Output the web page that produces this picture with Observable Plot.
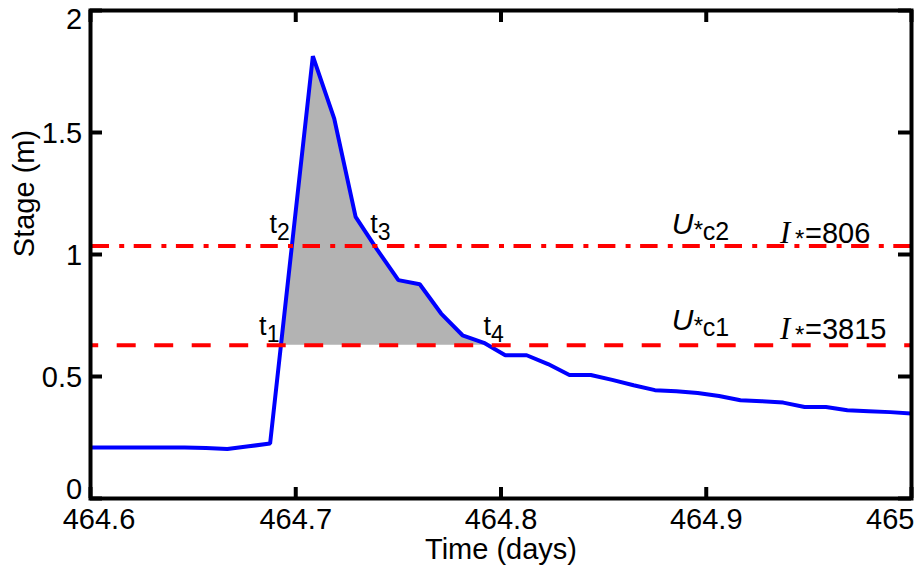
<!DOCTYPE html>
<html><head><meta charset="utf-8">
<script src="https://cdn.jsdelivr.net/npm/d3@7"></script>
<script src="https://cdn.jsdelivr.net/npm/@observablehq/plot@0.6"></script>
<style>
html,body{margin:0;padding:0;background:#fff;overflow:hidden}
#chart svg{display:block}
</style></head><body><div id="chart"></div>
<script>
// Time = day 464 + quarter-hour index / 96
const dayOffset = 464;
const quarterHourIndex = [57,58,59,60,61,62,63,64,65,66,67,68,69,70,71,72,73,74,75,76,77,78,79,80,81,82,83,84,85,86,87,88,89,90,91,92,93,94,95,96];
const stage = [0.209,0.209,0.209,0.209,0.209,0.209,0.207,0.203,0.214,0.225,1.02,1.813,1.557,1.154,1.021,0.895,0.878,0.758,0.669,0.638,0.587,0.587,0.551,0.506,0.506,0.486,0.464,0.444,0.440,0.432,0.420,0.403,0.399,0.393,0.375,0.375,0.362,0.358,0.354,0.348];
const thresholdNames = ["c1", "c2"];
const thresholdStage = [0.628, 1.035];
const thresholdI = ["3815", "806"];
const crossingNames = ["1", "2", "3", "4"];
const xTicks = [464.6, 464.7, 464.8, 464.9, 465];
const xTickLabels = ["464.6", "464.7", "464.8", "464.9", "465"];
const yTicks = [0, 0.5, 1, 1.5, 2];
const yTickLabels = ["0", "0.5", "1", "1.5", "2"];
const xTitle = "Time (days)";
const yTitle = "Stage (m)";
const labelUx = 464.8834;
const labelIx = 464.9362;

const series = quarterHourIndex.map((k, i) => ({t: dayOffset + k / 96, v: stage[i]}));
function crossings(level) {
  const out = [];
  for (let i = 1; i < series.length; i++) {
    const a = series[i - 1], b = series[i];
    if ((a.v - level) * (b.v - level) < 0) {
      const f = (level - a.v) / (b.v - a.v);
      out.push({t: a.t + f * (b.t - a.t), v: level});
    }
  }
  return out;
}
const c1 = crossings(thresholdStage[0]);
const c2 = crossings(thresholdStage[1]);
const shade = [c1[0], ...series.filter(d => d.t > c1[0].t && d.t < c1[1].t), c1[1]];

const W = 918, H = 565, mL = 90, mR = 7, mT = 10, mB = 67;
const pw = W - mL - mR, ph = H - mT - mB;
const xLab = xTicks.map((v, i) => ({v, label: xTickLabels[i]}));
const yLab = yTicks.map((v, i) => ({v, label: yTickLabels[i]}));
const sans = "'Liberation Sans', Arial, Helvetica, sans-serif";

const chart = Plot.plot({
  width: W, height: H, marginLeft: mL, marginRight: mR, marginTop: mT, marginBottom: mB,
  style: {fontFamily: sans, fontSize: "29px", background: "#fff", color: "#000", overflow: "visible"},
  x: {domain: [464.6, 465], axis: null},
  y: {domain: [0, 2], axis: null},
  marks: [
    Plot.areaY(shade, {x: "t", y1: thresholdStage[0], y2: "v", fill: "#b3b3b3"}),
    Plot.line(series, {x: "t", y: "v", stroke: "#0000ff", strokeWidth: 4, strokeLinejoin: "miter", clip: true}),
    Plot.ruleY([thresholdStage[0]], {stroke: "#ff0000", strokeWidth: 4, strokeDasharray: "19,18.5", strokeDashoffset: 10.8}),
    Plot.ruleY([thresholdStage[1]], {stroke: "#ff0000", strokeWidth: 4, strokeDasharray: "17.5,10.2,5,9.5", strokeDashoffset: -1.5}),
    Plot.tickX(xTicks, {x: d => d, insetTop: ph - 11, stroke: "#000", strokeWidth: 4}),
    Plot.tickX(xTicks, {x: d => d, insetBottom: ph - 12, stroke: "#000", strokeWidth: 4}),
    Plot.tickY(yTicks, {y: d => d, insetRight: pw - 12, stroke: "#000", strokeWidth: 4}),
    Plot.tickY(yTicks, {y: d => d, insetLeft: pw - 13, stroke: "#000", strokeWidth: 4}),
    Plot.frame({stroke: "#000", strokeWidth: 4}),
    Plot.text(xLab.slice(1, -1), {x: "v", text: "label", frameAnchor: "bottom", lineAnchor: "bottom", dy: 30.3}),
    Plot.text(xLab.slice(0, 1), {x: "v", text: "label", frameAnchor: "bottom", lineAnchor: "bottom", dy: 30.3, dx: 8.5}),
    Plot.text(xLab.slice(-1), {x: "v", text: "label", frameAnchor: "bottom", lineAnchor: "bottom", dy: 30.3, dx: 3, textAnchor: "end"}),
    Plot.text(yLab.slice(1, -1), {y: "v", text: "label", frameAnchor: "left", textAnchor: "end", dx: -8.3, lineAnchor: "bottom", dy: 10.3}),
    Plot.text(yLab.slice(0, 1), {y: "v", text: "label", frameAnchor: "left", textAnchor: "end", dx: -8.3, lineAnchor: "bottom", dy: 0.3}),
    Plot.text(yLab.slice(-1), {y: "v", text: "label", frameAnchor: "left", textAnchor: "end", dx: -8.3, lineAnchor: "bottom", dy: 18.3}),
    Plot.text([xTitle], {text: d => d, frameAnchor: "bottom", lineAnchor: "bottom", dy: 60}),
    Plot.text([yTitle], {text: d => d, frameAnchor: "left", rotate: -90, lineAnchor: "bottom", dx: -56.5, dy: 2.7})
  ]
});

const sx = chart.scale("x"), sy = chart.scale("y");
const svg = d3.select(chart);
const g = svg.append("g").attr("fill", "#000");
function piece(x, y, txt, size, opts = {}) {
  return g.append("text").attr("x", x).attr("y", y).text(txt)
    .attr("font-size", size)
    .attr("font-family", opts.family || sans)
    .attr("font-style", opts.style || "normal")
    .attr("text-anchor", opts.anchor || "start");
}
// crossing labels t1..t4
const tPts = [c1[0], c2[0], c2[1], c1[1]];
const tAnchor = ["end", "end", "start", "start"];
const tDx = [-1, -1.5, -4, -4];
const tDy = [-10, -12, -12, -10];
tPts.forEach((p, i) => {
  const x = sx.apply(p.t) + tDx[i], y = sy.apply(p.v) + tDy[i];
  const t = g.append("text").attr("x", x).attr("y", y).attr("text-anchor", tAnchor[i])
    .attr("font-family", sans).attr("font-size", 27);
  t.append("tspan").text("t");
  t.append("tspan").attr("font-size", 23).attr("dy", 7).text(crossingNames[i]);
});
// threshold labels
const rowDy = [-15, -11.7];
thresholdStage.forEach((v, i) => {
  const base = sy.apply(v) + rowDy[i];
  const ux = sx.apply(labelUx);
  piece(ux, base, "U", 30, {style: "italic"});
  piece(ux + 22, base + 4, "*", 24);
  piece(ux + 31, base + 6.5, thresholdNames[i], 25);
  const ix = sx.apply(labelIx);
  piece(ix, base + 9.5, "I", 31, {style: "italic", family: "'Liberation Serif', 'Times New Roman', serif"});
  piece(ix + 15, base + 13.5, "*", 24);
  piece(ix + 25, base + 9.5, "=" + thresholdI[i], 29);
});

document.getElementById("chart").appendChild(chart);
</script>
</body></html>
